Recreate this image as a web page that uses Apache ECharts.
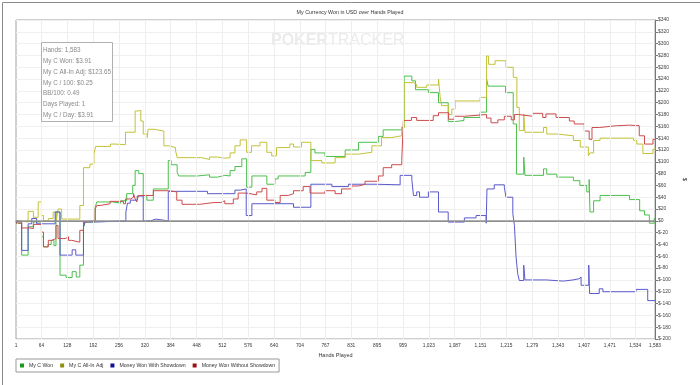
<!DOCTYPE html>
<html><head><meta charset="utf-8">
<script src="https://cdn.jsdelivr.net/npm/echarts@6/dist/echarts.min.js"></script>
<style>html,body{margin:0;padding:0;background:#fff}#c{width:700px;height:385px}</style>
</head><body><div id="c"></div>
<script>
const titleText = 'My Currency Won in USD over Hands Played';
const seriesNames = ['My C Won', 'My C All-In Adj', 'Money Won With Showdown', 'Money Won Without Showdown'];
const xTicks = [1,64,128,192,256,320,384,448,512,576,640,704,767,831,895,959,1023,1087,1151,1215,1279,1343,1407,1471,1534,1583];
const infoLines = ['Hands: 1,583','My C Won: $3.91','My C All-In Adj: $123.65','My C / 100: $0.25','BB/100: 0.49','Days Played: 1','My C / Day: $3.91'];

const myCWon = [[1,0],[8,-4],[15,-58],[31,-10],[44,-2],[64,-27],[69,-44],[80,-40],[88,-33],[95,-42],[100,15],[110,-92],[125,-96],[140,-86],[150,-95],[159,-75],[168,-12],[172,-2],[197,23],[201,32],[240,30],[260,34],[275,46],[290,60],[296,85],[305,80],[316,43],[325,35],[341,54],[378,102],[385,95],[400,82],[404,76],[450,78],[480,74],[500,77],[518,76],[531,85],[543,92],[560,105],[572,57],[585,76],[622,62],[642,71],[650,76],[717,82],[731,121],[741,115],[766,109],[816,120],[849,133],[898,143],[910,154],[956,158],[962,245],[981,237],[990,222],[1022,217],[1047,200],[1071,168],[1088,170],[1110,175],[1150,184],[1166,240],[1170,228],[1213,217],[1232,164],[1240,79],[1258,108],[1261,77],[1307,88],[1315,79],[1340,74],[1381,68],[1397,60],[1414,49],[1420,70],[1422,15],[1431,34],[1447,43],[1520,36],[1545,17],[1557,10],[1569,-4],[1581,4],[1583,4]];
const myCAllInAdj = [[1,0],[7,-2],[31,16],[44,6],[56,32],[64,9],[69,0],[81,4],[93,15],[101,0],[105,20],[114,3],[159,26],[168,90],[184,96],[194,113],[198,126],[235,130],[244,129],[272,150],[296,186],[304,187],[310,169],[316,147],[326,141],[328,155],[343,152],[367,127],[380,124],[396,119],[400,107],[460,104],[480,108],[500,106],[518,107],[531,115],[543,127],[556,137],[572,116],[584,127],[605,133],[622,116],[634,110],[646,124],[679,130],[688,125],[708,133],[731,102],[758,98],[791,107],[816,113],[849,116],[882,127],[906,141],[931,144],[956,158],[962,234],[985,231],[993,226],[1018,230],[1047,240],[1051,210],[1055,195],[1072,180],[1080,189],[1088,203],[1150,209],[1166,279],[1171,265],[1187,271],[1214,260],[1232,243],[1241,192],[1247,153],[1258,181],[1261,150],[1307,158],[1315,147],[1340,144],[1381,136],[1398,125],[1418,110],[1422,115],[1431,136],[1447,140],[1530,136],[1538,130],[1553,114],[1578,121],[1583,124]];
const wonWithShowdown = [[1,0],[4,-2],[15,-50],[31,-5],[40,4],[52,-5],[98,15],[110,-58],[140,-49],[149,-58],[168,-10],[172,-2],[198,0],[273,15],[277,30],[284,35],[301,42],[316,0],[334,3],[347,0],[378,50],[475,46],[543,52],[556,54],[571,9],[585,29],[688,23],[731,62],[783,58],[824,62],[890,61],[952,77],[981,70],[985,43],[993,49],[1000,40],[1022,49],[1047,15],[1071,-2],[1111,5],[1140,9],[1165,-4],[1167,54],[1185,61],[1210,57],[1214,40],[1231,12],[1235,-8],[1239,-61],[1243,-89],[1247,-101],[1258,-75],[1261,-100],[1314,-102],[1356,-100],[1380,-98],[1395,-95],[1400,-109],[1419,-75],[1421,-123],[1445,-115],[1454,-120],[1536,-116],[1565,-135],[1583,-135]];
const wonWithoutShowdown = [[1,0],[5,-4],[15,-12],[35,-13],[44,-6],[64,-19],[69,-44],[81,-33],[89,-30],[100,-8],[105,-30],[123,-27],[131,-33],[139,-36],[159,-16],[168,-2],[172,0],[197,20],[201,26],[209,29],[234,33],[267,29],[272,37],[285,34],[289,40],[292,46],[296,37],[300,32],[304,43],[341,51],[378,49],[399,35],[412,28],[456,31],[491,31],[508,34],[518,29],[539,37],[551,47],[572,44],[597,49],[610,55],[622,35],[642,31],[655,43],[675,46],[688,51],[712,58],[729,47],[766,51],[791,46],[807,54],[832,59],[849,62],[865,67],[898,76],[910,90],[931,95],[956,102],[960,170],[980,175],[993,170],[1034,178],[1047,183],[1072,172],[1086,177],[1111,180],[1166,174],[1177,166],[1194,171],[1210,177],[1227,171],[1235,180],[1245,177],[1280,182],[1305,175],[1313,181],[1338,175],[1371,169],[1383,164],[1408,152],[1420,138],[1427,158],[1445,161],[1487,162],[1520,161],[1544,144],[1557,130],[1578,138],[1583,138]];

const lineColors = ['#4cbf4c', '#c2c23a', '#5a5acc', '#cc4c4c'];
const legendColors = ['#1a9a1a', '#8f8f10', '#10109a', '#9a1010'];
const allData = [myCWon, myCAllInAdj, wonWithShowdown, wonWithoutShowdown];
const FONT = 'Liberation Sans';

const chart = echarts.init(document.getElementById('c'), null, {renderer: 'canvas'});
const series = allData.map((d, i) => ({
  name: seriesNames[i], type: 'line', step: 'end', data: d, symbol: 'none',
  z: 3, lineStyle: {width: 1, color: lineColors[i]}, itemStyle: {color: legendColors[i]},
  emphasis: {disabled: true}
}));
series.unshift({
  name: 'grid', type: 'line', data: [], z: 1, silent: true,
  markLine: {
    silent: true, symbol: 'none', label: {show: false}, animation: false,
    data: xTicks.slice(1, -1).map(v => ({xAxis: v, lineStyle: {color: '#eeeeee', width: 1, type: 'solid'}}))
      .concat([{yAxis: 0, lineStyle: {color: '#959595', width: 1.5, type: 'solid'}}])
  }
});

chart.setOption({
  animation: false,
  backgroundColor: '#ffffff',
  title: {text: titleText, left: 'center', top: 5, textStyle: {fontFamily: FONT, fontSize: 5.3, fontWeight: 'normal', color: '#333'}},
  grid: {left: 16, right: 45, top: 20, bottom: 46, show: true, borderColor: '#a0a0a0', borderWidth: 1},
  legend: {
    data: seriesNames, left: 16, top: 359, orient: 'horizontal', icon: 'rect', itemWidth: 4, itemHeight: 4, itemGap: 7,
    borderColor: '#999', borderWidth: 1, padding: [4, 4], textStyle: {fontFamily: FONT, fontSize: 5.2, color: '#333'}
  },
  xAxis: {
    type: 'value', min: 1, max: 1583, name: 'Hands Played', nameLocation: 'middle', nameGap: 12,
    nameTextStyle: {fontFamily: FONT, fontSize: 5.5, color: '#333'},
    axisLine: {show: true, lineStyle: {color: '#777', width: 1}},
    axisTick: {show: true, length: 3, customValues: xTicks, lineStyle: {color: '#777'}},
    axisLabel: {customValues: xTicks, fontFamily: FONT, fontSize: 4.8, color: '#333', margin: 4,
      formatter: v => Number(v).toLocaleString('en-US')},
    splitLine: {show: false}
  },
  yAxis: {
    type: 'value', position: 'right', min: -200, max: 340, interval: 20, name: '$', nameLocation: 'middle', nameGap: 5, nameRotate: -90,
    nameTextStyle: {fontFamily: FONT, fontSize: 6, color: '#333'},
    axisLine: {show: true, lineStyle: {color: '#777', width: 1}},
    axisTick: {show: true, length: 3, lineStyle: {color: '#777'}},
    axisLabel: {fontFamily: FONT, fontSize: 5, color: '#444', margin: 3, formatter: v => '$' + v},
    splitLine: {show: true, lineStyle: {color: '#efefef', width: 1}}
  },
  graphic: [
    {type: 'rect', left: 0, top: 0, shape: {width: 699, height: 384}, style: {fill: 'none', stroke: '#8a8a8a', lineWidth: 1}, silent: true, z: 100},
    {type: 'text', left: 271, top: 33, z: 0, silent: true, style: {
      text: '{b|POKER}{n|TRACKER}', rich: {
        b: {fontFamily: FONT, fontSize: 16, fontWeight: 'bold', fill: '#ebebeb'},
        n: {fontFamily: FONT, fontSize: 16, fontWeight: 'normal', fill: '#ebebeb'}}}},
    {type: 'rect', left: 41, top: 42, z: 50, shape: {width: 71, height: 79}, style: {fill: 'rgba(255,255,255,0.9)', stroke: '#b0b0b0', lineWidth: 1}},
    {type: 'text', left: 43, top: 45, z: 51, style: {
      text: infoLines.join('\n'), fontFamily: FONT, fontSize: 6.3, lineHeight: 10.8, fill: '#8a8a8a'}}
  ],
  series: series
});
</script></body></html>
